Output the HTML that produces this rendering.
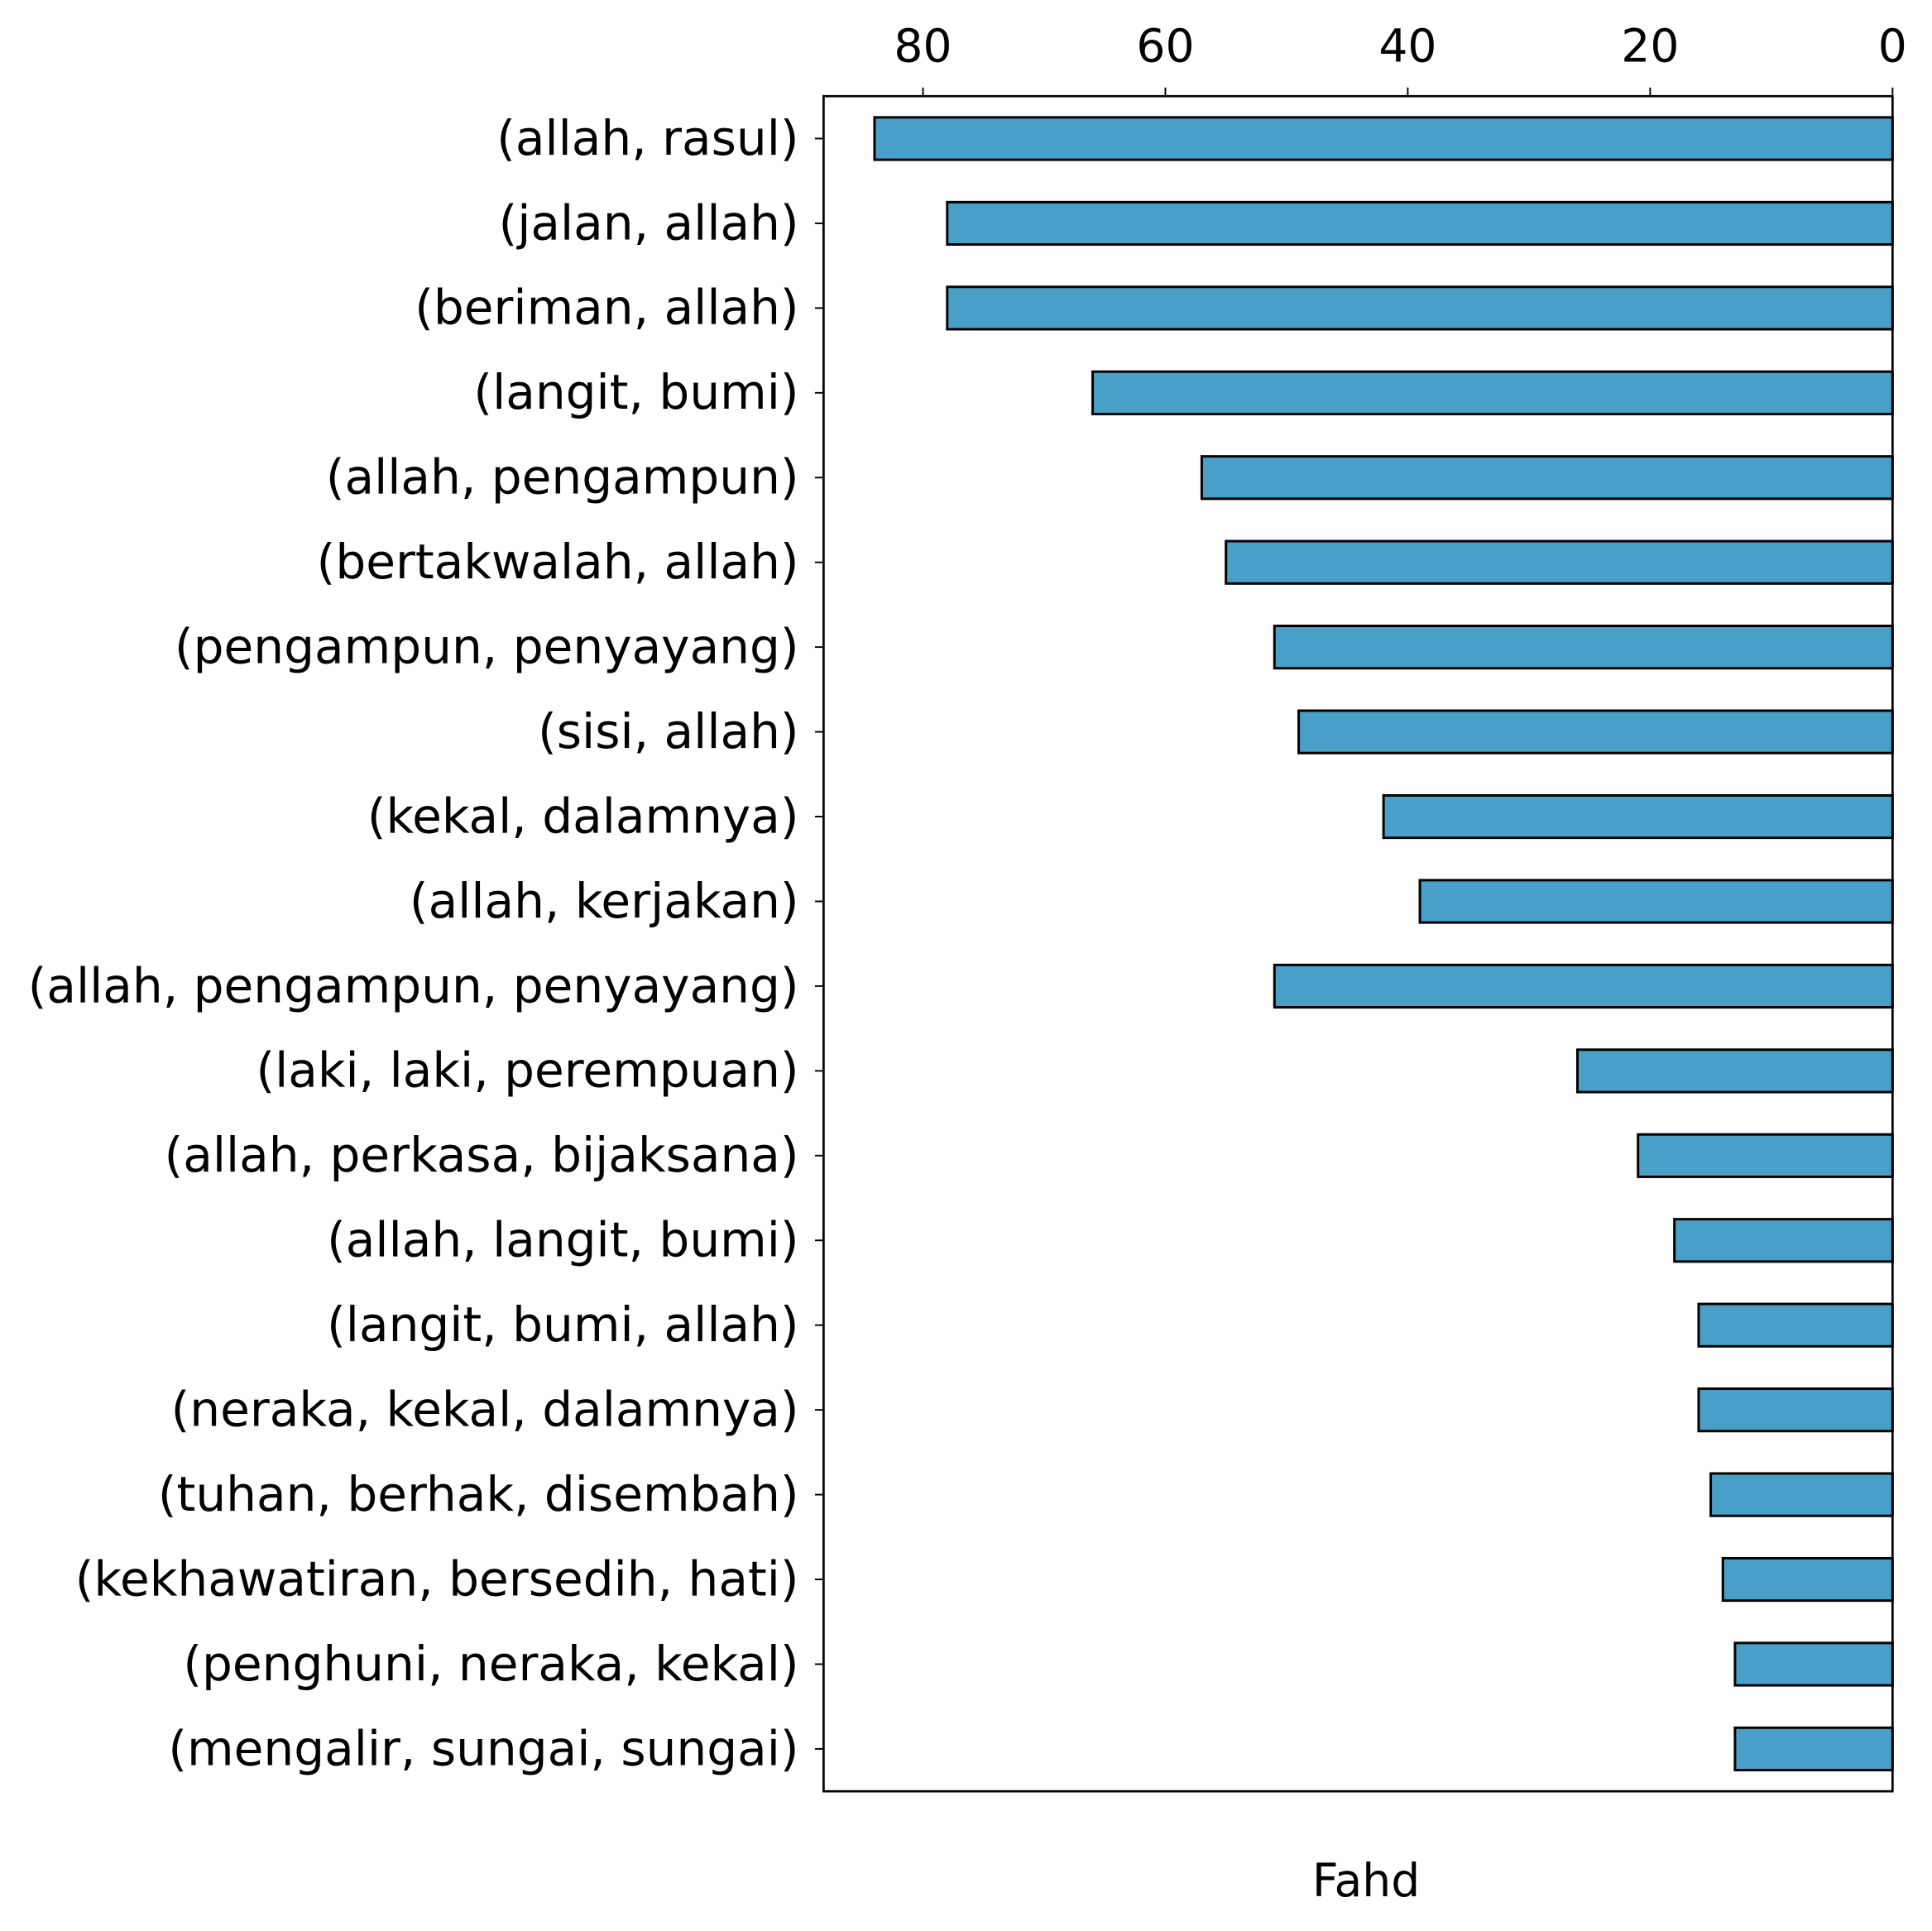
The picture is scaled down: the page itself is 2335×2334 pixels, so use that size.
<!DOCTYPE html>
<html><head><meta charset="utf-8"><style>
html,body{margin:0;padding:0;background:#fff;}
svg{display:block;}
text{font-family:"DejaVu Sans","Liberation Sans",sans-serif;fill:#000;}
</style></head><body>
<svg id="chart" width="2335" height="2334" viewBox="0 0 1567 1566.3" xmlns="http://www.w3.org/2000/svg">
<g id="bars"></g>
<g id="yticks"></g>
<g id="xticks"></g>
<rect x="668" y="78" width="867" height="1375" fill="none" stroke="#000" stroke-width="1.8"/>
<text x="1108" y="1538" font-size="37" text-anchor="middle">Fahd</text>
</svg>
<script>
const categories = ["(allah, rasul)","(jalan, allah)","(beriman, allah)","(langit, bumi)","(allah, pengampun)","(bertakwalah, allah)","(pengampun, penyayang)","(sisi, allah)","(kekal, dalamnya)","(allah, kerjakan)","(allah, pengampun, penyayang)","(laki, laki, perempuan)","(allah, perkasa, bijaksana)","(allah, langit, bumi)","(langit, bumi, allah)","(neraka, kekal, dalamnya)","(tuhan, berhak, disembah)","(kekhawatiran, bersedih, hati)","(penghuni, neraka, kekal)","(mengalir, sungai, sungai)"];
const values = [84,78,78,66,57,55,51,49,42,39,51,26,21,18,16,16,15,14,13,13];
const tickValues = [80,60,40,20,0];
const tickLabels = ["80","60","40","20","0"];

const NS = "http://www.w3.org/2000/svg";
const X0 = 1535, X1 = 668, Y0 = 78, Y1 = 1453;
const xMax = Math.max(...values) * 1.05;
const xs = v => X0 - v / xMax * (X0 - X1);
const n = categories.length;
const yStep = (Y1 - Y0) / n;
const ys = i => Y0 + yStep * (0.5 + i);
const bh = yStep * 0.5;

function mk(tag, attrs, parent) {
  const e = document.createElementNS(NS, tag);
  for (const k in attrs) e.setAttribute(k, attrs[k]);
  parent.appendChild(e);
  return e;
}
const gb = document.getElementById('bars');
const gy = document.getElementById('yticks');
const gx = document.getElementById('xticks');
categories.forEach((c, i) => {
  const cy = ys(i);
  const r = mk('rect', {x: xs(values[i]), y: cy - bh/2, width: X0 - xs(values[i]), height: bh, fill: '#48a0c8', stroke: '#000', 'stroke-width': 2}, gb);
  
  
  const t = mk('line', {x1: X1 - 7, x2: X1, y1: cy, y2: cy, stroke: '#000', 'stroke-width': 1.3}, gy);
  
  
  const l = mk('text', {x: X1 - 20, y: cy + 13, 'font-size': 39, 'text-anchor': 'end'}, gy);
  l.textContent = c;
  
  
});
tickValues.forEach((v, i) => {
  const x = xs(v);
  const t = mk('line', {x1: x, x2: x, y1: Y0 - 7, y2: Y0, stroke: '#000', 'stroke-width': 1.3}, gx);
  
  
  const l = mk('text', {x: x, y: 50, 'font-size': 37, 'text-anchor': 'middle'}, gx);
  l.textContent = tickLabels[i];
  
  
});
</script>
</body></html>
